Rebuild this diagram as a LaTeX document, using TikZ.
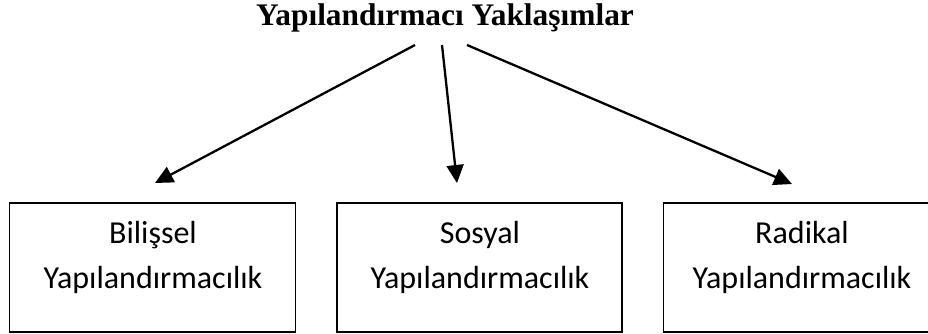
\documentclass[tikz,border=0pt]{standalone}
\usepackage{fontspec}
\setmainfont{Carlito}
\newfontfamily\titlefont{Liberation Serif}
\usetikzlibrary{arrows.meta}
\begin{document}
\begin{tikzpicture}[x=1pt,y=1pt,
  box/.style={draw=black,line width=1.8pt,minimum width=286pt,minimum height=129pt,inner sep=0pt},
  lbl/.style={anchor=base,inner sep=0pt,font=\fontsize{32}{45}\selectfont},
  conn/.style={line width=2.3pt,-{Triangle[length=18pt,width=17pt]}}]
\clip (0,0) rectangle (928,-333);
\useasboundingbox (0,0) rectangle (928,-333);
\node[anchor=base,inner sep=0pt,font=\titlefont\bfseries\fontsize{31.4}{36}\selectfont] (title) at (445,-25) {Yapılandırmacı Yaklaşımlar};
\node[box] (b1) at (152.5,-267.5) {};
\node[box,minimum width=285pt] (b2) at (479.5,-267.5) {};
\node[box,minimum width=278pt] (b3) at (802.5,-267.5) {};
\node[lbl] (t1) at (153,-243) {\begin{tabular}[t]{@{}c@{}}Bilişsel\\Yapılandırmacılık\end{tabular}};
\node[lbl] (t2) at (480,-243) {\begin{tabular}[t]{@{}c@{}}Sosyal\\Yapılandırmacılık\end{tabular}};
\node[lbl] (t3) at (802,-243) {\begin{tabular}[t]{@{}c@{}}Radikal\\Yapılandırmacılık\end{tabular}};
\coordinate (s1) at (415,-45);
\coordinate (s2) at (442,-45);
\coordinate (s3) at (467,-45);
\coordinate (e1) at (155,-183);
\coordinate (e2) at (457,-183);
\coordinate (e3) at (792,-184);
\draw[conn] (s1) -- (e1);
\draw[conn] (s2) -- (e2);
\draw[conn] (s3) -- (e3);
\end{tikzpicture}
\end{document}
